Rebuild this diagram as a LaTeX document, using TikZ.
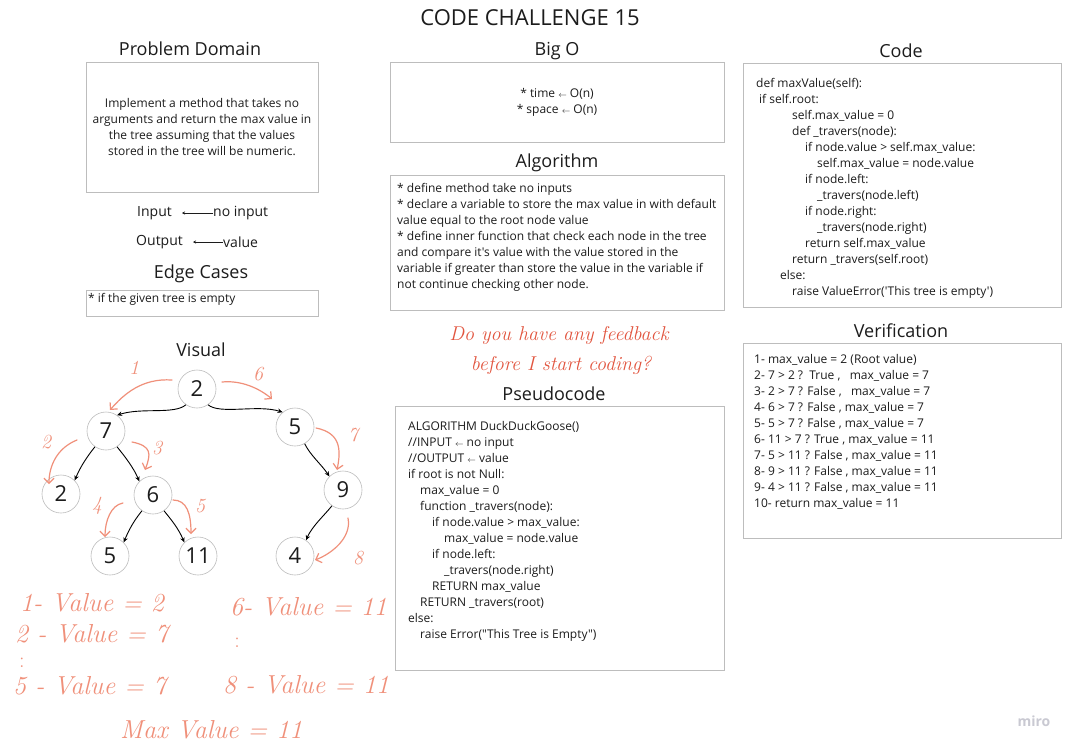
\documentclass[tikz,border=0pt]{standalone}
\usepackage{fontspec}
\newfontfamily\osans{Open Sans}
\usetikzlibrary{arrows.meta}
\definecolor{boxgray}{HTML}{BDBDBD}
\definecolor{sketch}{HTML}{F0907A}
\definecolor{fbred}{HTML}{E2553F}
\definecolor{ink}{HTML}{1C1C1C}
\definecolor{logo}{HTML}{C9C9D2}
\newcommand\smarr{{\fontsize{8}{8}\selectfont$\leftarrow$}}
\begin{document}
\begin{tikzpicture}[x=1pt,y=-1pt,
  panel/.style={draw=boxgray, line width=1pt},
  heading/.style={font=\osans\fontsize{18}{22}\selectfont, text=ink, inner sep=0, yshift=-1.5pt},
  body/.style={font=\osans\fontsize{12}{16}\selectfont, text=ink, inner sep=0, align=left, anchor=north west},
  io/.style={font=\osans\fontsize{14}{16}\selectfont, text=ink, inner sep=0},
  tnode/.style={circle, draw=boxgray, line width=0.6pt, minimum size=38pt, inner sep=0, font=\osans\fontsize{22}{24}\selectfont, text=ink},
  tedge/.style={-{Stealth[length=5pt,width=4.5pt]}, line width=0.9pt, black},
  smallarrow/.style={-{Stealth[length=3pt,width=3pt]}, line width=0.6pt, ink},
  hand/.style={draw=sketch, line width=1.2pt, line cap=round, -{Straight Barb[length=5pt,width=10pt]}},
  handtxt/.style={text=sketch, font=\rmfamily\itshape\fontsize{26}{28}\selectfont, inner sep=0},
  handdots/.style={text=sketch, font=\rmfamily\fontsize{22}{22}\selectfont, inner sep=0},
  handnum/.style={text=sketch, font=\rmfamily\itshape\fontsize{20}{22}\selectfont, inner sep=0},
  feedback/.style={text=fbred, font=\rmfamily\itshape\fontsize{20}{22}\selectfont, inner sep=0},
]
\useasboundingbox (0,0) rectangle (1076,752);
\fill[white] (0,0) rectangle (1076,752);

% title
\node[font=\osans\fontsize{22}{26}\selectfont, text=ink, inner sep=0] (title) at (530,18) {CODE CHALLENGE 15};

% ---------- Problem domain ----------
\node[heading] (pdT) at (190,47) {Problem Domain};
\draw[panel] (86,63) rectangle (318,192);
\node[body, anchor=center, align=center] (pdB) at (202,127) {Implement a method that takes no\\arguments and return the max value in\\the tree assuming that the values\\stored in the tree will be numeric.};

\node[io, anchor=east] (inL) at (172,213) {Input};
\node[io, anchor=west] (inV) at (213,213) {no input};
\draw[smallarrow, shorten >=10pt] (inV.west) -- (inL.east);
\node[io, anchor=east] (outL) at (183,242) {Output};
\node[io, anchor=west] (outV) at (223,242) {value};
\draw[smallarrow, shorten >=10pt] (outV.west) -- (outL.east);

\node[heading] (ecT) at (201,272) {Edge Cases};
\draw[panel] (86,290) rectangle (318,316);
\node[body] (ecB) at (88,293) {* if the given tree is empty};

% ---------- Visual ----------
\node[heading] (visT) at (201,348) {Visual};
\node[tnode] (r2) at (197,389) {2};
\node[tnode] (n7) at (106,431) {7};
\node[tnode] (n5) at (295,427) {5};
\node[tnode] (l2) at (61,494) {2};
\node[tnode] (n6) at (153,495) {6};
\node[tnode] (n9) at (343,490) {9};
\node[tnode] (b5) at (110,556) {5};
\node[tnode] (b11) at (198,556) {11};
\node[tnode] (b4) at (295,556) {4};

\draw[tedge] (r2.235) .. controls +(-12,10) and +(25,-8) .. (n7.55);
\draw[tedge] (r2.305) .. controls +(12,10) and +(-25,-8) .. (n5.130);
\draw[tedge] (n7.235) .. controls +(-8,10) and +(6,-14) .. (l2.45);
\draw[tedge] (n7.305) .. controls +(8,10) and +(-6,-14) .. (n6.135);
\draw[tedge] (n6.235) .. controls +(-8,10) and +(6,-14) .. (b5.45);
\draw[tedge] (n6.305) .. controls +(8,10) and +(-6,-14) .. (b11.135);
\draw[tedge] (n5.300) .. controls +(6,12) and +(-8,-12) .. (n9.135);
\draw[tedge] (n9.235) .. controls +(-8,10) and +(6,-14) .. (b4.55);

% sketch arrows
\coordinate (s1a) at (172,380); \coordinate (s1b) at (110,410);
\draw[hand] (s1a) .. controls +(-30,-2) and +(14,-16) .. (s1b);
\node[handnum] (s1n) at (134,368) {1};
\coordinate (s6a) at (222,382); \coordinate (s6b) at (272,399);
\draw[hand] (s6a) .. controls +(20,-2) and +(-12,-10) .. (s6b);
\node[handnum] (s6n) at (258,374) {6};
\coordinate (s2a) at (77,440); \coordinate (s2b) at (49,484);
\draw[hand] (s2a) .. controls +(-20,8) and +(0,-18) .. (s2b);
\node[handnum] (s2n) at (46,442) {2};
\coordinate (s3a) at (132,442); \coordinate (s3b) at (145,470);
\draw[hand] (s3a) .. controls +(20,4) and +(6,-16) .. (s3b);
\node[handnum] (s3n) at (157,448) {3};
\coordinate (s4a) at (123,503); \coordinate (s4b) at (105,537);
\draw[hand] (s4a) .. controls +(-12,2) and +(0,-16) .. (s4b);
\node[handnum] (s4n) at (97,506) {4};
\coordinate (s5a) at (173,500); \coordinate (s5b) at (191,534);
\draw[hand] (s5a) .. controls +(14,0) and +(0,-20) .. (s5b);
\node[handnum] (s5n) at (200,506) {5};
\coordinate (s7a) at (316,428); \coordinate (s7b) at (337,470);
\draw[hand] (s7a) .. controls +(25,5) and +(4,-20) .. (s7b);
\node[handnum] (s7n) at (353,435) {7};
\coordinate (s8a) at (348,518); \coordinate (s8b) at (315,560);
\draw[hand] (s8a) .. controls +(4,20) and +(16,-6) .. (s8b);
\node[handnum] (s8n) at (358,558) {8};

% handwritten notes
\node[handtxt, anchor=west] (h1) at (20,603) {1- Value = 2};
\node[handtxt, anchor=west] (h2) at (15,634) {2 - Value = 7};
\node[handdots] (hd1) at (22,663) {:};
\node[handtxt, anchor=west] (h5) at (13,686) {5 - Value = 7};
\node[handtxt, anchor=west] (h6) at (230,607) {6- Value = 11};
\node[handdots] (hd2) at (237,643) {:};
\node[handtxt, anchor=west] (h8) at (223,685) {8 - Value = 11};
\node[handtxt, anchor=west] (hmax) at (120,730) {Max Value = 11};

% ---------- Big O ----------
\node[heading] (boT) at (557,50) {Big O};
\draw[panel] (390,63) rectangle (724,142);
\node[body, anchor=center, align=center] (boB) at (557,102) {* time \smarr{} O(n)\\* space \smarr{} O(n)};

% ---------- Algorithm ----------
\node[heading] (alT) at (557,161) {Algorithm};
\draw[panel] (390,175) rectangle (724,310);
\node[body] (alB) at (397,183) {* define method take no inputs\\
* declare a variable to store the max value in with default\\
value equal to the root node value\\
* define inner function that check each node in the tree\\
and compare it's value with the value stored in the\\
variable if greater than store the value in the variable if\\
not continue checking other node.};

% feedback
\node[feedback] (fb1) at (559,335) {Do you have any feedback};
\node[feedback] (fb2) at (561,365) {before I start coding?};

% ---------- Pseudocode ----------
\node[heading] (psT) at (554,392) {Pseudocode};
\draw[panel] (395,406) rectangle (724,670);
\node[body] (psB) at (408,421) {ALGORITHM DuckDuckGoose()\\
//INPUT \smarr{} no input\\
//OUTPUT \smarr{} value\\
if root is not Null:\\
\hspace*{12pt}max\_value = 0\\
\hspace*{12pt}function \_travers(node):\\
\hspace*{24pt}if node.value > max\_value:\\
\hspace*{36pt}max\_value = node.value\\
\hspace*{24pt}if node.left:\\
\hspace*{36pt}\_travers(node.right)\\
\hspace*{24pt}RETURN max\_value\\
\hspace*{12pt}RETURN \_travers(root)\\
else:\\
\hspace*{12pt}raise Error("This Tree is Empty")};

% ---------- Code ----------
\node[heading] (cdT) at (901,49) {Code};
\draw[panel] (743,64) rectangle (1061,307);
\node[body] (cdB) at (756,78) {def maxValue(self):\\
\hspace*{3pt}if self.root:\\
\hspace*{36pt}self.max\_value = 0\\
\hspace*{36pt}def \_travers(node):\\
\hspace*{49pt}if node.value > self.max\_value:\\
\hspace*{61pt}self.max\_value = node.value\\
\hspace*{49pt}if node.left:\\
\hspace*{61pt}\_travers(node.left)\\
\hspace*{49pt}if node.right:\\
\hspace*{61pt}\_travers(node.right)\\
\hspace*{49pt}return self.max\_value\\
\hspace*{36pt}return \_travers(self.root)\\
\hspace*{24pt}else:\\
\hspace*{36pt}raise ValueError('This tree is empty')};

% ---------- Verification ----------
\node[heading] (vfT) at (901,329) {Verification};
\draw[panel] (743,343) rectangle (1061,538);
\node[body] (vfB) at (754,354) {1- max\_value = 2 (Root value)\\
2- 7 > 2 ?\ \ True ,\ \ \ max\_value = 7\\
3- 2 > 7 ? False ,\ \ \ max\_value = 7\\
4- 6 > 7 ? False , max\_value = 7\\
5- 5 > 7 ? False , max\_value = 7\\
6- 11 > 7 ? True , max\_value = 11\\
7- 5 > 11 ? False , max\_value = 11\\
8- 9 > 11 ? False , max\_value = 11\\
9- 4 > 11 ? False , max\_value = 11\\
10- return max\_value = 11};

% logo
\node[text=logo, font=\osans\bfseries\fontsize{14}{16}\selectfont, inner sep=0] (miro) at (1034,721) {miro};
\end{tikzpicture}
\end{document}
